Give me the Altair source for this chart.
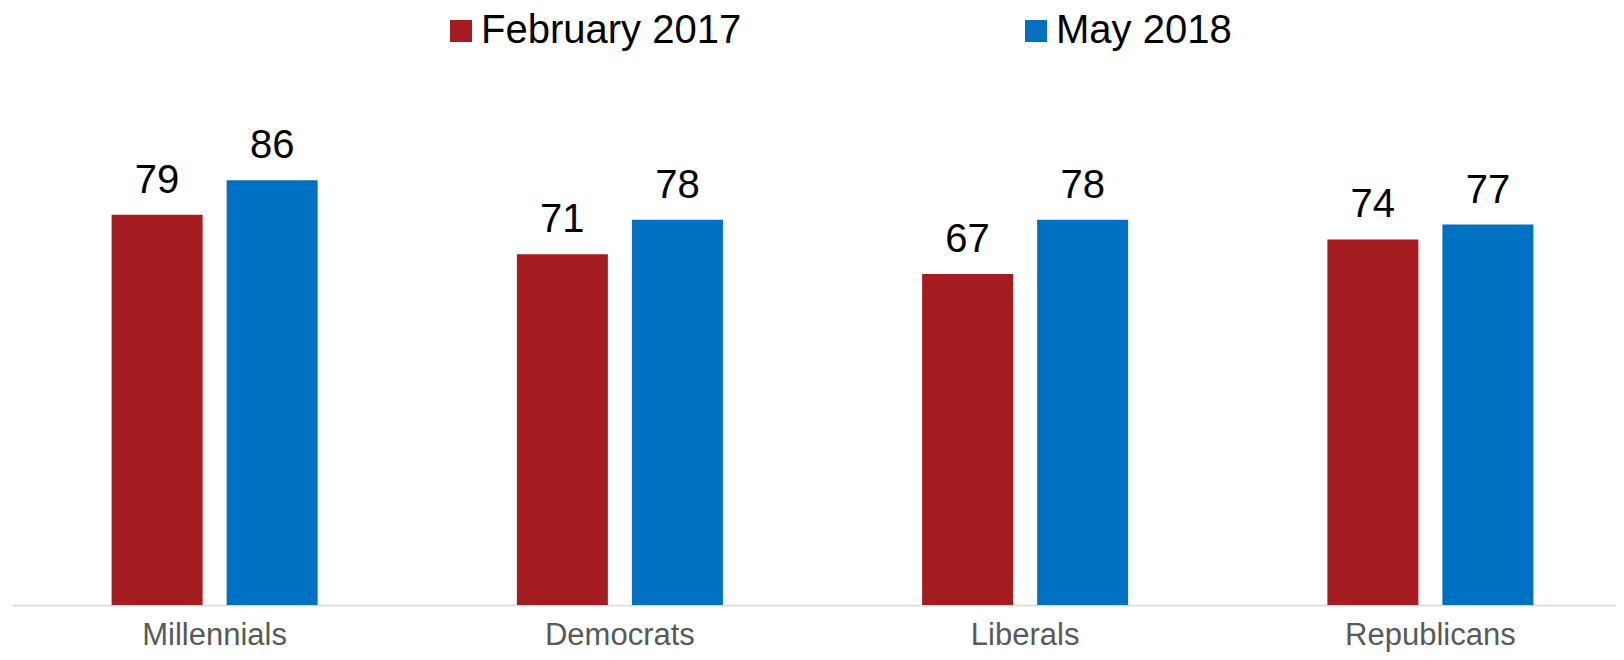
import altair as alt
import pandas as pd

categories = ["Millennials", "Democrats", "Liberals", "Republicans"]
series = ["February 2017", "May 2018"]
feb_2017 = [79, 71, 67, 74]
may_2018 = [86, 78, 78, 77]
colors = ["#a51c20", "#0070c0"]

rows = []
for c, a, b in zip(categories, feb_2017, may_2018):
    rows.append({"group": c, "period": series[0], "value": a})
    rows.append({"group": c, "period": series[1], "value": b})
df = pd.DataFrame(rows)

FONT = "Liberation Sans"

base = alt.Chart(df).encode(
    x=alt.X(
        "group:N",
        sort=categories,
        title=None,
        scale=alt.Scale(range=[0, 1621], paddingInner=0, paddingOuter=0),
        axis=alt.Axis(
            labelAngle=0,
            ticks=False,
            domainColor="#d9d9d9",
            domainWidth=1.5,
            labelFont=FONT,
            labelFontSize=31,
            labelColor="#595959",
            labelPadding=15,
        ),
    ),
    xOffset=alt.XOffset(
        "period:N",
        sort=series,
        scale=alt.Scale(paddingInner=0.2087, paddingOuter=0.866),
    ),
    y=alt.Y("value:Q", scale=alt.Scale(domain=[0, 100]), axis=None),
)

bars = base.mark_bar().encode(
    color=alt.Color(
        "period:N",
        sort=series,
        scale=alt.Scale(domain=series, range=colors),
        legend=alt.Legend(
            title=None,
            orient="none",
            legendX=429,
            legendY=-100,
            direction="horizontal",
            symbolType="square",
            symbolSize=484,
            symbolStrokeWidth=0,
            labelFont=FONT,
            labelFontSize=40,
            labelColor="#000000",
            labelOffset=0,
            columnPadding=274,
            labelLimit=400,
            padding=0,
        ),
    )
)

labels = base.mark_text(
    baseline="alphabetic", dy=-22, fontSize=40, font=FONT, color="#000000"
).encode(text=alt.Text("value:Q"))

chart = (
    alt.layer(bars, labels)
    .properties(
        width=1604,
        height=494,
        autosize=alt.AutoSizeParams(type="none"),
        padding={"left": 4, "top": 103, "right": 0, "bottom": 47},
    )
    .configure_view(stroke=None)
)

chart.save("out.html", embed_options={"renderer": "svg", "actions": False})
